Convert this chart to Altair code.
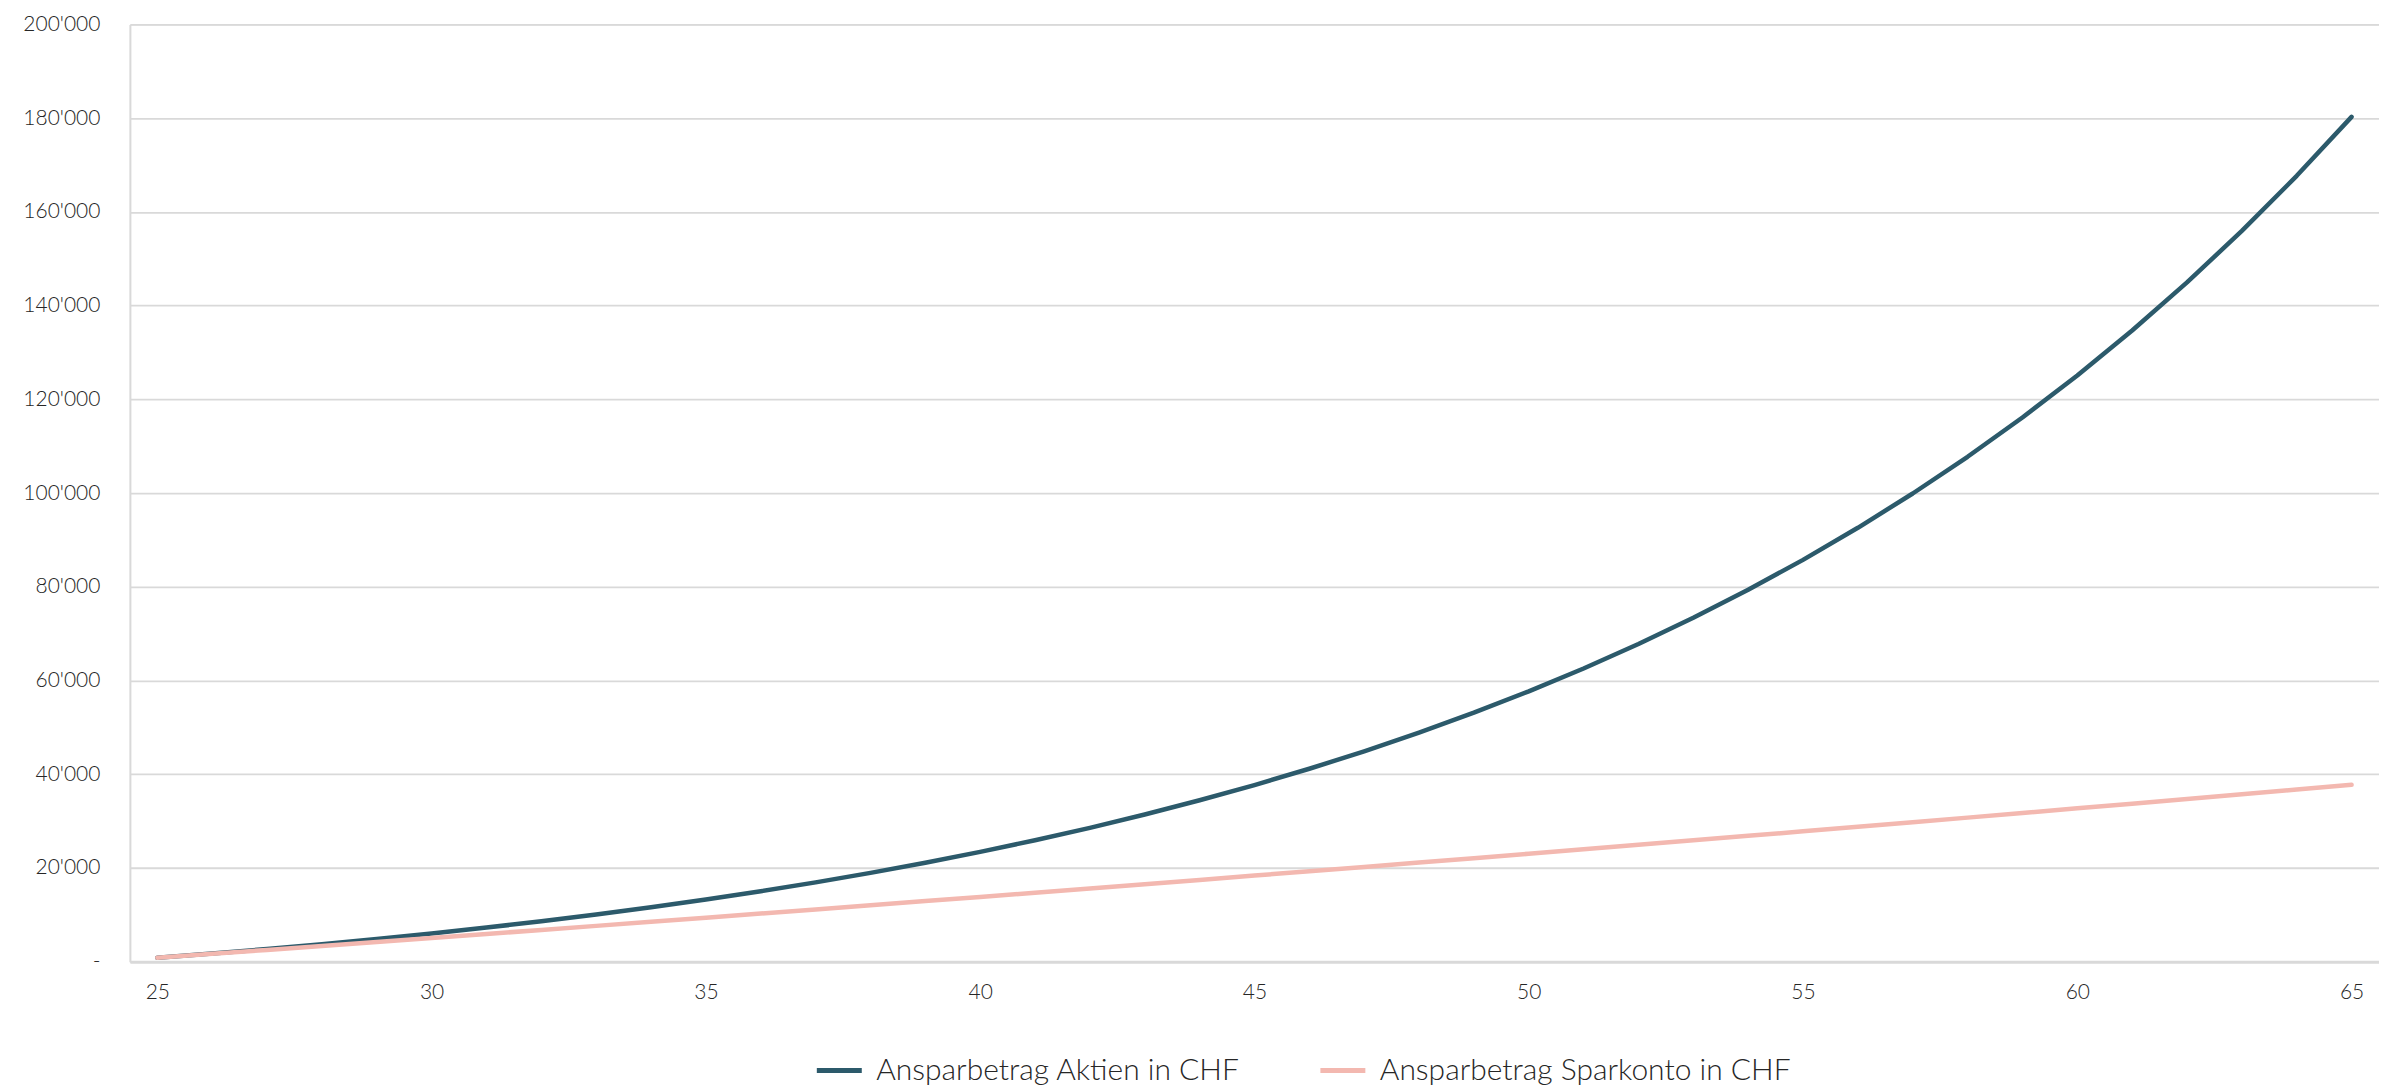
import altair as alt
import pandas as pd

ages = list(range(25, 66))

aktien = [840, 1739, 2700, 3730, 4831, 6009, 7269, 8618, 10062, 11606,
          13258, 15026, 16918, 18942, 21108, 23426, 25906, 28559, 31398, 34436,
          37687, 41165, 44886, 48868, 53129, 57688, 62566, 67786, 73371, 79347,
          85741, 92583, 99904, 107737, 116119, 125087, 134683, 144951, 155938, 167693,
          180272]

sparkonto = [832, 1667, 2508, 3351, 4200, 5052, 5909, 6771, 7636, 8506,
             9380, 10258, 11141, 12029, 12920, 13816, 14717, 15622, 16532, 17446,
             18365, 19288, 20217, 21149, 22087, 23028, 23976, 24927, 25884, 26844,
             27810, 28780, 29756, 30737, 31722, 32712, 33708, 34707, 35712, 36722,
             37738]

series_names = ["Ansparbetrag Aktien in CHF", "Ansparbetrag Sparkonto in CHF"]
series_colors = ["#2C5A6B", "#F3B8B0"]

x_ticks = [25, 30, 35, 40, 45, 50, 55, 60, 65]
y_ticks = [0, 20000, 40000, 60000, 80000, 100000, 120000, 140000, 160000, 180000, 200000]

rows = []
for a, v in zip(ages, aktien):
    rows.append({"Alter": a, "Wert": v, "Serie": series_names[0]})
for a, v in zip(ages, sparkonto):
    rows.append({"Alter": a, "Wert": v, "Serie": series_names[1]})
df = pd.DataFrame(rows)

label_expr_y = "datum.value == 0 ? '-' : replace(format(datum.value, ','), regexp(',', 'g'), \"'\")"

chart = alt.Chart(df).mark_line(strokeWidth=4.5, strokeCap="round", strokeJoin="round").encode(
    x=alt.X("Alter:Q",
            scale=alt.Scale(domain=[24.5, 65.5], nice=False, zero=False),
            axis=alt.Axis(values=x_ticks, title=None, grid=False, ticks=False,
                          labelPadding=20, domainColor="#D9D9D9", domainWidth=3,
                          labelFontSize=21, labelColor="#262626", labelFont="Lato",
                          labelFontWeight=300)),
    y=alt.Y("Wert:Q",
            scale=alt.Scale(domain=[0, 200000], nice=False),
            axis=alt.Axis(values=y_ticks, title=None, grid=True, ticks=False,
                          gridColor="#D9D9D9", gridWidth=1.8,
                          domainColor="#D9D9D9", domainWidth=2,
                          labelPadding=30, labelExpr=label_expr_y,
                          labelFontSize=21, labelColor="#262626", labelFont="Lato",
                          labelFontWeight=300)),
    color=alt.Color("Serie:N",
                    scale=alt.Scale(domain=series_names, range=series_colors),
                    legend=alt.Legend(title=None, orient="none", direction="horizontal",
                                      legendX=685, legendY=1022,
                                      symbolType="stroke", symbolSize=2025,
                                      symbolStrokeWidth=5, labelFontSize=30,
                                      labelFont="Lato", labelColor="#262626",
                                      labelFontWeight=300, labelOffset=12,
                                      columnPadding=70, labelLimit=700)),
).properties(
    width=2251,
    height=938,
    autosize=alt.AutoSizeParams(type="none"),
    padding={"left": 122, "top": 16, "right": 0, "bottom": 126},
).configure_view(
    stroke=None
).configure(
    font="Lato"
)

chart.save("out.html", embed_options={"renderer": "svg", "actions": False})
